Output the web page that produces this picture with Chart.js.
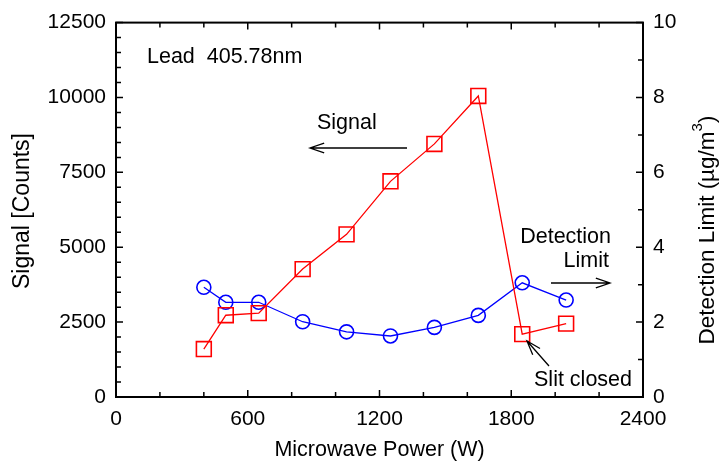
<!DOCTYPE html>
<html lang="en">
<head>
    <meta charset="UTF-8">
    <title>Lead 405.78nm - Signal and Detection Limit</title>
    <script src="https://cdn.jsdelivr.net/npm/chart.js"></script>
    <style>
        html, body { margin: 0; padding: 0; background: #fff; }
        #wrap { width: 722px; height: 461px; }
    </style>
</head>
<body>
    <div id="wrap"><canvas id="chart" width="722" height="461"></canvas></div>

    <script>
        // data
        const power = [400, 500, 650, 850, 1050, 1250, 1450, 1650, 1850, 2050];
        const signal = [1600, 2730, 2800, 4270, 5430, 7200, 8450, 10050, 2100, 2450];
        const detectionLimit = [2.93, 2.53, 2.53, 2.01, 1.74, 1.63, 1.86, 2.18, 3.05, 2.59];

        const xTicks = [0, 600, 1200, 1800, 2400];
        const signalTicks = [0, 2500, 5000, 7500, 10000, 12500];
        const limitTicks = [0, 2, 4, 6, 8, 10];

        const FONT = '"Liberation Sans", Arial, sans-serif';
        const tickFont = { family: FONT, size: 21 };

        function pts(xs, ys) {
            return xs.map((x, i) => ({ x: x, y: ys[i] }));
        }

        // frame, inward ticks, titles and text notes
        const decorations = {
            id: 'decorations',
            afterDraw(chart) {
                const ctx = chart.ctx;
                const a = chart.chartArea;
                const sx = chart.scales.x, sy = chart.scales.y, sy1 = chart.scales.y1;
                ctx.save();
                ctx.strokeStyle = '#000';
                ctx.fillStyle = '#000';

                // ticks
                ctx.lineWidth = 1.5;
                ctx.beginPath();
                for (let v = 0; v <= 2400; v += 200) {
                    const px = sx.getPixelForValue(v);
                    const len = v % 600 === 0 ? 7 : 5;
                    ctx.moveTo(px, a.bottom); ctx.lineTo(px, a.bottom - len);
                    ctx.moveTo(px, a.top); ctx.lineTo(px, a.top + len);
                }
                for (let v = 0; v <= 12500; v += 500) {
                    const py = sy.getPixelForValue(v);
                    const len = v % 2500 === 0 ? 7 : 5;
                    ctx.moveTo(a.left, py); ctx.lineTo(a.left + len, py);
                }
                for (let v = 0; v <= 10; v += 1) {
                    const py = sy1.getPixelForValue(v);
                    const len = v % 2 === 0 ? 7 : 5;
                    ctx.moveTo(a.right, py); ctx.lineTo(a.right - len, py);
                }
                ctx.stroke();

                // frame
                ctx.lineWidth = 2;
                ctx.strokeRect(a.left, a.top, a.right - a.left, a.bottom - a.top);

                // axis titles
                ctx.textAlign = 'center';
                ctx.textBaseline = 'middle';
                ctx.font = '21.5px ' + FONT;
                ctx.fillText('Microwave Power (W)', (a.left + a.right) / 2, 450);

                ctx.save();
                ctx.translate(23, 211);
                ctx.rotate(-Math.PI / 2);
                ctx.font = '23px ' + FONT;
                ctx.fillText('Signal [Counts]', 0, 0);
                ctx.restore();

                ctx.save();
                ctx.translate(708, 230);
                ctx.rotate(-Math.PI / 2);
                const main = 'Detection Limit (\u00b5g/m';
                ctx.font = '22.5px ' + FONT;
                const wMain = ctx.measureText(main).width;
                ctx.font = '15px ' + FONT;
                const wSup = ctx.measureText('3').width;
                ctx.font = '22.5px ' + FONT;
                const wEnd = ctx.measureText(')').width;
                let x0 = -(wMain + wSup + wEnd) / 2;
                ctx.textAlign = 'left';
                ctx.fillText(main, x0, 0);
                ctx.font = '15px ' + FONT;
                ctx.fillText('3', x0 + wMain, -10);
                ctx.font = '22.5px ' + FONT;
                ctx.fillText(')', x0 + wMain + wSup, 0);
                ctx.restore();

                // notes
                ctx.textAlign = 'left';
                ctx.textBaseline = 'alphabetic';
                ctx.font = '21.5px ' + FONT;
                ctx.fillText('Lead  405.78nm', 147, 63);
                ctx.fillText('Signal', 317, 129);
                ctx.textAlign = 'right';
                ctx.fillText('Detection', 611, 243);
                ctx.fillText('Limit', 609, 267);
                ctx.fillText('Slit closed', 632, 386);

                ctx.lineWidth = 1.3;
                arrow(ctx, 407, 148, 310, 148);
                arrow(ctx, 551, 283, 610, 283);
                arrow(ctx, 549, 366, 527, 341);
                ctx.restore();
            }
        };

        function arrow(ctx, x1, y1, x2, y2) {
            const ang = Math.atan2(y2 - y1, x2 - x1);
            const len = 15, half = 0.33;
            ctx.beginPath();
            ctx.moveTo(x1, y1);
            ctx.lineTo(x2, y2);
            ctx.moveTo(x2 - len * Math.cos(ang - half), y2 - len * Math.sin(ang - half));
            ctx.lineTo(x2, y2);
            ctx.lineTo(x2 - len * Math.cos(ang + half), y2 - len * Math.sin(ang + half));
            ctx.stroke();
        }

        new Chart(document.getElementById('chart').getContext('2d'), {
            type: 'line',
            data: {
                datasets: [
                    {
                        label: 'Signal',
                        data: pts(power, signal),
                        yAxisID: 'y',
                        borderColor: '#ff0000',
                        backgroundColor: 'transparent',
                        borderWidth: 1.3,
                        pointStyle: 'rect',
                        pointRadius: 10.5,
                        pointBorderWidth: 1.6,
                        pointBorderColor: '#ff0000',
                        tension: 0
                    },
                    {
                        label: 'Detection Limit',
                        data: pts(power, detectionLimit),
                        yAxisID: 'y1',
                        borderColor: '#0000ff',
                        backgroundColor: 'transparent',
                        borderWidth: 1.3,
                        pointStyle: 'circle',
                        pointRadius: 7,
                        pointBorderWidth: 1.6,
                        pointBorderColor: '#0000ff',
                        tension: 0
                    }
                ]
            },
            options: {
                responsive: false,
                animation: false,
                layout: { padding: { top: 17, left: 0, right: 0, bottom: 0 } },
                plugins: {
                    legend: { display: false },
                    tooltip: { enabled: false }
                },
                scales: {
                    x: {
                        type: 'linear',
                        min: 0,
                        max: 2400,
                        afterBuildTicks: s => { s.ticks = xTicks.map(v => ({ value: v })); },
                        afterFit: s => { s.height = 64; },
                        ticks: { font: tickFont, color: '#000', padding: 10, maxRotation: 0, autoSkip: false, callback: v => String(v) },
                        grid: { display: false, drawTicks: false },
                        border: { display: false }
                    },
                    y: {
                        position: 'left',
                        min: 0,
                        max: 12500,
                        afterBuildTicks: s => { s.ticks = signalTicks.map(v => ({ value: v })); },
                        afterFit: s => { s.width = 116; },
                        ticks: { font: tickFont, color: '#000', padding: 10, callback: v => String(v) },
                        grid: { display: false, drawTicks: false },
                        border: { display: false }
                    },
                    y1: {
                        position: 'right',
                        min: 0,
                        max: 10,
                        afterBuildTicks: s => { s.ticks = limitTicks.map(v => ({ value: v })); },
                        afterFit: s => { s.width = 79; },
                        ticks: { font: tickFont, color: '#000', padding: 10, callback: v => String(v) },
                        grid: { display: false, drawTicks: false },
                        border: { display: false }
                    }
                }
            },
            plugins: [decorations]
        });
    </script>
</body>
</html>
